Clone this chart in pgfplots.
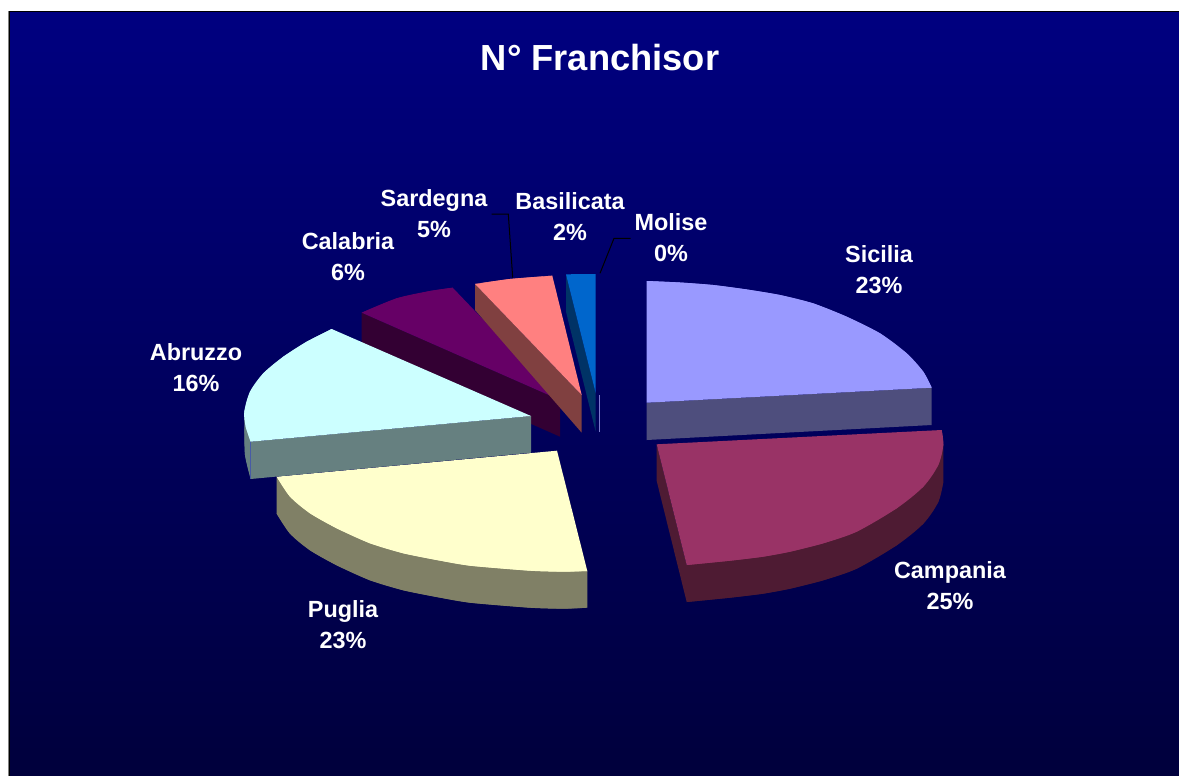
\documentclass[border=0pt]{standalone}
\usepackage{fontspec}
\setmainfont{Liberation Sans}
\usepackage{pgfplots}
\pgfplotsset{compat=1.18}
\definecolor{bgtop}{RGB}{0,0,128}
\definecolor{bgbot}{RGB}{0,0,60}
\definecolor{sicT}{RGB}{153,153,255}
\definecolor{sicS}{RGB}{78,78,125}
\definecolor{camT}{RGB}{153,51,102}
\definecolor{camS}{RGB}{78,27,51}
\definecolor{pugT}{RGB}{255,255,204}
\definecolor{pugS}{RGB}{128,128,102}
\definecolor{abrT}{RGB}{204,255,255}
\definecolor{abrS}{RGB}{102,128,128}
\definecolor{calT}{RGB}{102,0,102}
\definecolor{calS}{RGB}{51,0,51}
\definecolor{sarT}{RGB}{255,128,128}
\definecolor{sarS}{RGB}{128,64,64}
\definecolor{basT}{RGB}{0,102,204}
\definecolor{basS}{RGB}{0,51,102}
\newcommand{\lab}[3]{\node[text=white,font=\fontsize{23.4}{25}\selectfont\bfseries,align=center] at (axis cs:#1,#2) {#3};}
\begin{document}
\begin{tikzpicture}
\begin{axis}[
  scale only axis, width=1179pt, height=776pt,
  xmin=0, xmax=1179, ymin=0, ymax=776, y dir=reverse,
  enlargelimits=false, hide axis]
% frame and background
\addplot[fill=white,draw=none] coordinates {(0,0)(1179,0)(1179,776)(0,776)} --cycle;
\addplot[fill=gray,draw=none] coordinates {(8,11)(1179,11)(1179,776)(8,776)} --cycle;
\addplot[draw=none,top color=bgtop,bottom color=bgbot] coordinates {(10,12)(1179,12)(1179,776)(10,776)} --cycle;
\addplot[black,line width=1pt] coordinates {(9.5,776)(9.5,11.5)(1179,11.5)};
% Sicilia
\addplot[fill=sicS,draw=none] coordinates {(646.7,402.7)(931.7,387.7)(931.7,425)(646.7,440)} --cycle;
\addplot[fill=sicT,draw=none] coordinates {(646.7,402.7)(646.7,281)(680,282.5)(713,285)(747,289.5)(780,295)(813,303.3)(846.7,316.7)(880,333.3)(906.7,353.3)(923.3,371.7)(931.7,387.7)} --cycle;
\addplot[fill=sicT,draw=none,smooth] coordinates {(646.7,281)(680,282.5)(713,285)(747,289.5)(780,295)(813,303.3)(846.7,316.7)(880,333.3)(906.7,353.3)(923.3,371.7)(931.7,387.7)};
% Campania
\addplot[fill=camS,draw=none] coordinates {(656.7,444.3)(656.7,481)(686.7,602)(730,597.7)(763,593.7)(790,588.7)(823.3,580.3)(856.7,568.7)(896.7,545.3)(923.3,523.7)(938.3,502)(943.3,482)(943.3,445)(686.7,565)} --cycle;
\addplot[fill=camS,draw=none,smooth] coordinates {(686.7,602)(730,597.7)(763,593.7)(790,588.7)(823.3,580.3)(856.7,568.7)(896.7,545.3)(923.3,523.7)(938.3,502)(943.3,482)};
\addplot[fill=camT,draw=none] coordinates {(656.7,444.3)(941.7,430)(943.3,445)(938.3,465)(923.3,486.7)(896.7,508.3)(856.7,531.7)(823.3,543.3)(790,551.7)(763,556.7)(730,560.7)(686.7,565)} --cycle;
\addplot[fill=camT,draw=none,smooth] coordinates {(941.7,430)(943.3,445)(938.3,465)(923.3,486.7)(896.7,508.3)(856.7,531.7)(823.3,543.3)(790,551.7)(763,556.7)(730,560.7)(686.7,565)};
% Puglia
\addplot[fill=pugS,draw=none] coordinates {(276.7,476.7)(276.7,513.7)(290,533.7)(310,550.3)(336.7,565.3)(370,580.3)(403.3,590.3)(436.7,597)(470,602.7)(530,607.7)(563.3,608.7)(587.3,607.7)(587.3,571)} --cycle;
\addplot[fill=pugS,draw=none,smooth] coordinates {(276.7,513.7)(290,533.7)(310,550.3)(336.7,565.3)(370,580.3)(403.3,590.3)(436.7,597)(470,602.7)(530,607.7)(563.3,608.7)(587.3,607.7)};
\addplot[fill=pugT,draw=none] coordinates {(557,450.7)(587.3,571)(563.3,571.7)(530,570.7)(470,565.7)(436.7,560)(403.3,553.3)(370,543.3)(336.7,528.3)(310,513.3)(290,496.7)(276.7,476.7)} --cycle;
\addplot[fill=pugT,draw=none,smooth] coordinates {(587.3,571)(563.3,571.7)(530,570.7)(470,565.7)(436.7,560)(403.3,553.3)(370,543.3)(336.7,528.3)(310,513.3)(290,496.7)(276.7,476.7)};
% Calabria
\addplot[fill=calS,draw=none] coordinates {(361.7,312.7)(560,400)(560,436.7)(361.7,349)} --cycle;
\addplot[fill=calT,draw=none] coordinates {(560,400)(361.7,312.7)(396.7,298.3)(430,291)(452.7,287.7)} --cycle;
\addplot[fill=calT,draw=none,smooth] coordinates {(361.7,312.7)(396.7,298.3)(430,291)(452.7,287.7)};
% Abruzzo
\addplot[fill=abrS,draw=none] coordinates {(244.3,411.7)(245.7,426.7)(250.7,441.7)(531,416)(531,452.7)(250.7,479)(245,455)(244.3,425)} --cycle;
\addplot[fill=abrS,draw=none,smooth] coordinates {(244.3,425)(245,455)(250.7,479)};
\addplot[fill=abrT,draw=none] coordinates {(531,416)(331.7,329)(306.7,341.7)(283.3,356.7)(263.3,373.3)(250,391.7)(244.3,411.7)(245.7,426.7)(250.7,441.7)} --cycle;
\addplot[fill=abrT,draw=none,smooth] coordinates {(331.7,329)(306.7,341.7)(283.3,356.7)(263.3,373.3)(250,391.7)(244.3,411.7)(245.7,426.7)(250.7,441.7)};
\addplot[color=abrS!70!blue,line width=0.5pt] coordinates {(250.7,441.7)(250.7,479)};
% Sardegna
\addplot[fill=sarS,draw=none] coordinates {(475,284)(581.7,395)(581.7,432.7)(475,310)} --cycle;
\addplot[fill=sarT,draw=none] coordinates {(581.7,395)(475,284)(510,279)(552.3,275.7)} --cycle;
\addplot[fill=sarT,draw=none,smooth] coordinates {(475,284)(510,279)(552.3,275.7)};
% Basilicata
\addplot[fill=basS,draw=none] coordinates {(566,274.3)(595.7,393.3)(595.7,431.7)(566,311.7)} --cycle;
\addplot[fill=basT,draw=none] coordinates {(595.7,393.3)(566,274.3)(595.7,274)} --cycle;
% Molise
\addplot[color=sicT!80!black,line width=0.8pt] coordinates {(599.3,395)(599.3,432)};
% leader lines
\addplot[black,line width=1pt] coordinates {(491.7,214)(508.3,214)(512.7,277.7)};
\addplot[black,line width=1pt] coordinates {(630.7,238.3)(614,238.3)(600,273.3)};
% text
\node[text=white,font=\fontsize{36.3}{40}\selectfont\bfseries] at (axis cs:600,58) {N° Franchisor};
\lab{879}{270}{Sicilia\\[6pt]23\%}
\lab{950}{586}{Campania\\[6pt]25\%}
\lab{343}{625}{Puglia\\[6pt]23\%}
\lab{196}{367.5}{Abruzzo\\[6pt]16\%}
\lab{348}{256.5}{Calabria\\[6pt]6\%}
\lab{434}{213.5}{Sardegna\\[6pt]5\%}
\lab{570}{216.5}{Basilicata\\[6pt]2\%}
\lab{671}{237.5}{Molise\\[6pt]0\%}
\end{axis}
\end{tikzpicture}
\end{document}
